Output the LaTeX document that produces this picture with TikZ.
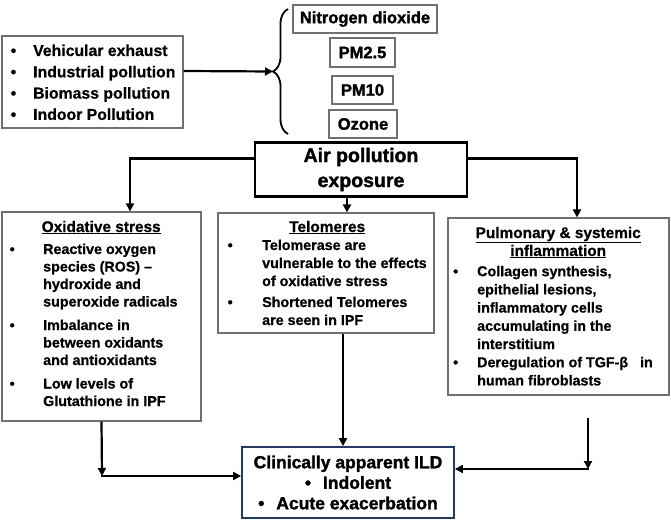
\documentclass[tikz,border=0pt]{standalone}
\usepackage{fontspec}
\setmainfont{Liberation Sans}[BoldFeatures={FakeBold=0.7}]
\newfontfamily\heavyfont{Liberation Sans Bold}[FakeBold=1.6]
\usetikzlibrary{arrows.meta,decorations.pathreplacing}
\definecolor{boxgray}{HTML}{707070}
\definecolor{navyline}{HTML}{1F3A70}
\newcommand{\bitem}[3]{\par\hangindent=#2\hangafter=1\noindent\hbox to #2{\hskip#1\textbullet\hfil}#3\par}
\newcommand{\ctitle}[1]{\noindent\makebox[\linewidth]{\underline{#1}}\par}
\tikzset{
  gbox/.style 2 args={draw=boxgray, line width=1.1pt, inner sep=0pt, minimum width=#1pt, minimum height=#2pt},
  txt/.style={anchor=base west, inner sep=0pt, font=\bfseries},
  pbox/.style={font=\fontsize{16.5}{20}\selectfont\heavyfont},
  arr/.style={line width=2.2pt, -{Triangle[length=8pt,width=8pt]}}
}
\begin{document}
\begin{tikzpicture}[x=1pt,y=-1pt]
\useasboundingbox[fill=white] (0,0) rectangle (671,524);

% sources
\node[gbox={181}{92}] (src) at (92.5,82) {};
\node[txt] (srct) at (8,56) {\parbox[t]{172pt}{\fontsize{15.8}{21.3}\selectfont
\bitem{2.5pt}{25pt}{Vehicular exhaust}
\bitem{2.5pt}{25pt}{Industrial pollution}
\bitem{2.5pt}{25pt}{Biomass pollution}
\bitem{2.5pt}{25pt}{Indoor Pollution}}};

% pollutants
\node[gbox={144}{28}, pbox] (no2) at (365,19) {Nitrogen dioxide};
\node[gbox={65}{29}, pbox] (pm25) at (362.5,52.5) {PM2.5};
\node[gbox={61}{28}, pbox] (pm10) at (362.5,90) {PM10};
\node[gbox={68}{28}, pbox] (oz) at (363,124) {Ozone};
\draw[line width=1.8pt, decorate, decoration={brace, amplitude=15pt}] (288,134) -- (288,9);
\coordinate (bracetip) at (273,71.5);
\draw[arr] ([yshift=11pt]src.east) -- (bracetip);

% exposure
\node[draw=black, line width=2.4pt, minimum width=212pt, minimum height=54pt, inner sep=0pt,
      align=center, font=\fontsize{19.5}{25}\selectfont\heavyfont] (air) at (361,169.5) {Air pollution\\exposure};

% three mechanism boxes
\node[gbox={199}{209}] (ox) at (101.5,316.5) {};
\node[txt] (oxt) at (6,232) {\parbox[t]{190pt}{\fontsize{14.3}{17.5}\selectfont
{\fontsize{15.4}{17.5}\selectfont\ctitle{Oxidative stress}}\vspace{4.5pt}
\bitem{3.5pt}{37pt}{Reactive oxygen\newline species (ROS) –\newline hydroxide and\newline superoxide radicals}\vspace{6pt}
\bitem{3.5pt}{37pt}{Imbalance in\newline between oxidants\newline and antioxidants}\vspace{6pt}
\bitem{3.5pt}{37pt}{Low levels of\newline Glutathione in IPF}}};

\node[gbox={216}{120}] (tel) at (326,273) {};
\node[txt] (telt) at (222,232) {\parbox[t]{210pt}{\fontsize{14.3}{18}\selectfont
{\fontsize{15.4}{18}\selectfont\ctitle{Telomeres}}
\bitem{5.5pt}{40pt}{Telomerase are\newline vulnerable to the effects\newline of oxidative stress}\vspace{3pt}
\bitem{5.5pt}{40pt}{Shortened Telomeres\newline are seen in IPF}}};

\node[gbox={221}{177}] (pul) at (558.5,306.5) {};
\node[txt] (pult) at (451,238) {\parbox[t]{214pt}{\fontsize{14.3}{18.2}\selectfont
{\fontsize{15.4}{18}\selectfont\ctitle{Pulmonary \& systemic}\ctitle{inflammation}}\vspace{2pt}
\bitem{2pt}{26pt}{Collagen synthesis,\newline epithelial lesions,\newline inflammatory cells\newline accumulating in the\newline interstitium}
\bitem{2pt}{26pt}{Deregulation of TGF-β\ \ \ in\newline human fibroblasts}}};

% outcome
\node[draw=navyline, line width=1.8pt, minimum width=212pt, minimum height=71pt, inner sep=0pt,
      align=center, font=\fontsize{17.5}{20.5}\selectfont\heavyfont] (clin) at (348,482.5)
      {Clinically apparent ILD\\\textbullet\hspace{12pt}Indolent\\\textbullet\hspace{12pt}Acute exacerbation};

% connectors from exposure
\draw[arr] ([yshift=11pt]air.west) -| ([xshift=28.5pt]ox.north);
\draw[arr] ([yshift=11pt]air.east) -| ([xshift=18.5pt]pul.north);
\draw[arr] ([xshift=-14pt]air.south) -- ([xshift=-14pt]air.south |- tel.north);

% connectors to outcome
\coordinate (lc) at (102,476);
\draw[arr] (ox.south) -- (lc);
\draw[arr] ([xshift=-1pt]lc) -- (lc -| clin.west);
\draw[arr] ([xshift=17pt]tel.south) -- ([xshift=17pt]tel.south |- clin.north);
\coordinate (rtop) at (588,418);
\coordinate (rc) at (588,469);
\draw[arr] (rtop) -- (rc);
\draw[arr] ([xshift=1pt]rc) -- (rc -| clin.east);
\end{tikzpicture}
\end{document}
